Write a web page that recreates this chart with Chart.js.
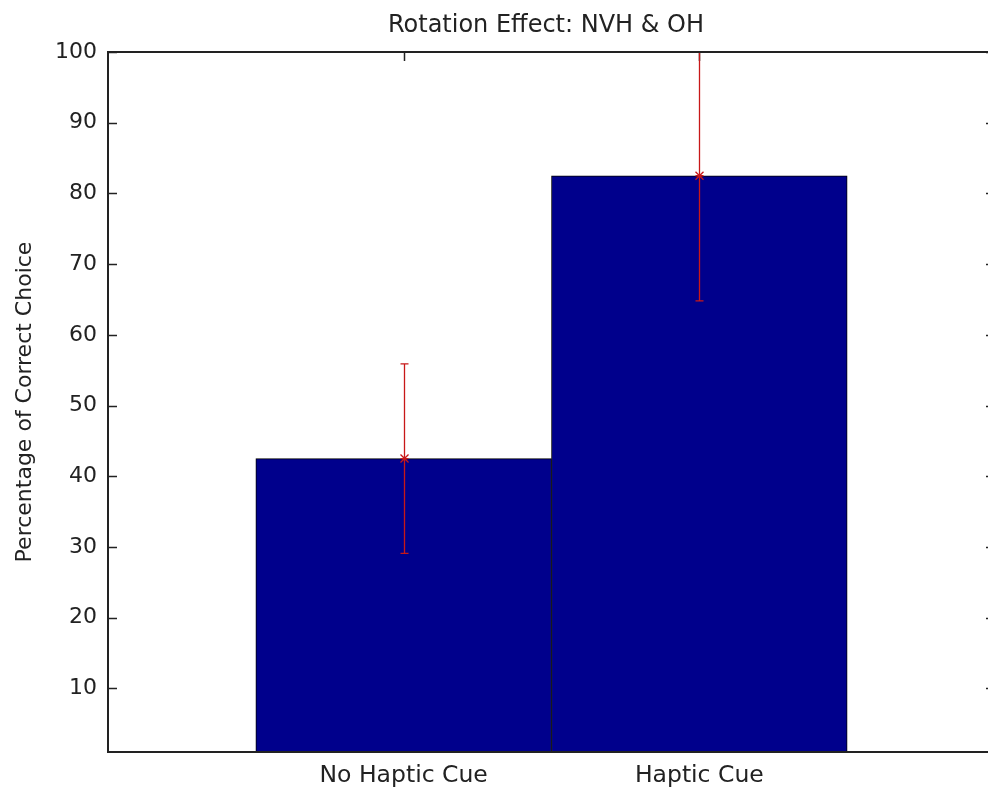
<!DOCTYPE html>
<html>
<head>
<meta charset="utf-8">
<script src="https://cdn.jsdelivr.net/npm/chart.js@4/dist/chart.umd.min.js"></script>
<style>
  html, body { margin: 0; padding: 0; background: #fff; overflow: hidden; }
  #wrap { width: 1092px; height: 794px; }
</style>
</head>
<body>
<div id="wrap"><canvas id="c" width="1092" height="794"></canvas></div>
<script>
// ---- data ----
const categories = ['No Haptic Cue', 'Haptic Cue'];
const meanValues = [42.5, 82.5];
const errorValues = [13.4, 17.7];
const yTickValues = [10, 20, 30, 40, 50, 60, 70, 80, 90, 100];
const xTickValues = [1, 2];
const chartTitle = 'Rotation Effect: NVH & OH';
const yAxisTitle = 'Percentage of Correct Choice';

const FONT = 'DejaVu Sans';
const TEXT = '#222';

const barPoints = meanValues.map((v, i) => ({ x: i + 1, y: v }));

const matlabAxes = {
  id: 'matlabAxes',
  beforeDatasetsDraw(chart) {
    const { ctx, chartArea: ca, scales } = chart;
    const ys = scales.y, xs = scales.x;
    ctx.save();
    ctx.strokeStyle = '#222';
    ctx.lineWidth = 1.5;
    const L = 9;
    yTickValues.forEach(v => {
      const y = Math.round(ys.getPixelForValue(v)) + 0.5;
      ctx.beginPath();
      ctx.moveTo(ca.left, y); ctx.lineTo(ca.left + L, y);
      ctx.moveTo(ca.right, y); ctx.lineTo(ca.right - L, y);
      ctx.stroke();
    });
    xTickValues.forEach(v => {
      const x = Math.round(xs.getPixelForValue(v)) + 0.5;
      ctx.beginPath();
      ctx.moveTo(x, ca.top); ctx.lineTo(x, ca.top + L);
      ctx.moveTo(x, ca.bottom); ctx.lineTo(x, ca.bottom - L);
      ctx.stroke();
    });
    ctx.restore();
  },
  afterDatasetsDraw(chart) {
    const { ctx, chartArea: ca, scales } = chart;
    const ys = scales.y, xs = scales.x;
    ctx.save();
    ctx.beginPath();
    ctx.rect(ca.left, ca.top, ca.right - ca.left, ca.bottom - ca.top);
    ctx.clip();
    ctx.strokeStyle = '#c81818';
    ctx.lineWidth = 1.3;
    meanValues.forEach((m, i) => {
      const x = Math.round(xs.getPixelForValue(i + 1)) + 0.5;
      const yT = ys.getPixelForValue(m + errorValues[i]);
      const yB = ys.getPixelForValue(m - errorValues[i]);
      const yM = ys.getPixelForValue(m);
      ctx.beginPath();
      ctx.moveTo(x, yT); ctx.lineTo(x, yB);
      ctx.moveTo(x - 4, yT); ctx.lineTo(x + 4, yT);
      ctx.moveTo(x - 4, yB); ctx.lineTo(x + 4, yB);
      // star marker
      const s = 4;
      ctx.moveTo(x - s, yM); ctx.lineTo(x + s, yM);
      ctx.moveTo(x, yM - s); ctx.lineTo(x, yM + s);
      ctx.moveTo(x - s, yM - s); ctx.lineTo(x + s, yM + s);
      ctx.moveTo(x - s, yM + s); ctx.lineTo(x + s, yM - s);
      ctx.stroke();
    });
    ctx.restore();
    // axes box
    ctx.save();
    ctx.strokeStyle = '#222';
    ctx.lineWidth = 2;
    ctx.strokeRect(ca.left, ca.top, ca.right - ca.left, ca.bottom - ca.top);
    ctx.restore();
  }
};

new Chart(document.getElementById('c'), {
  type: 'bar',
  data: {
    datasets: [{
      data: barPoints,
      backgroundColor: '#00008c',
      borderColor: '#000000',
      borderWidth: 1,
      borderSkipped: false,
      barPercentage: 1,
      categoryPercentage: 1
    }]
  },
  options: {
    responsive: false,
    animation: false,
    devicePixelRatio: 1,
    layout: { padding: 0 },
    plugins: {
      legend: { display: false },
      tooltip: { enabled: false },
      title: {
        display: true,
        text: chartTitle,
        color: TEXT,
        font: { family: FONT, size: 24, weight: 'normal', lineHeight: 1.2 },
        padding: { top: 11, bottom: 12.2 }
      }
    },
    scales: {
      x: {
        type: 'linear',
        min: 0,
        max: 3,
        offset: false,
        grid: { display: false, drawTicks: false },
        border: { display: false },
        afterBuildTicks: s => { s.ticks = xTickValues.map(v => ({ value: v })); },
        afterFit: s => { s.height = 42; },
        ticks: {
          padding: 10,
          color: TEXT,
          font: { family: FONT, size: 23.5 },
          callback: v => categories[v - 1] || ''
        }
      },
      y: {
        type: 'linear',
        min: 1,
        max: 100,
        grid: { display: false, drawTicks: false },
        border: { display: false },
        afterBuildTicks: s => { s.ticks = yTickValues.map(v => ({ value: v })); },
        afterFit: s => { s.width = 108; },
        ticks: {
          padding: 11,
          color: TEXT,
          font: { family: FONT, size: 22 }
        },
        title: {
          display: true,
          text: yAxisTitle,
          color: TEXT,
          font: { family: FONT, size: 22, weight: 'normal', lineHeight: 1.2 },
          padding: { top: 12, bottom: 0 }
        }
      },
      yRight: {
        type: 'linear',
        position: 'right',
        min: 1,
        max: 100,
        grid: { display: false, drawTicks: false },
        border: { display: false },
        ticks: { display: false },
        afterFit: s => { s.width = 97; }
      }
    }
  },
  plugins: [matlabAxes]
});
</script>
</body>
</html>
